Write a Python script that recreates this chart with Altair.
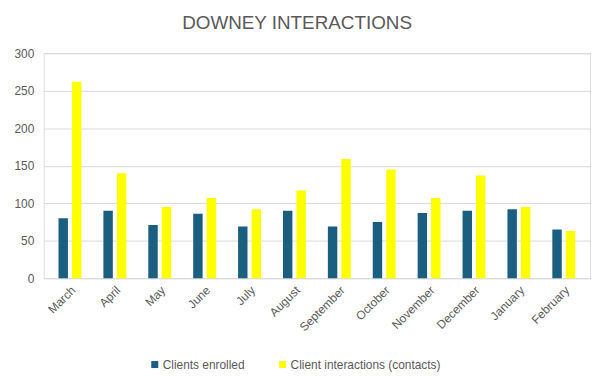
import altair as alt
import pandas as pd

months = ["March", "April", "May", "June", "July", "August", "September",
          "October", "November", "December", "January", "February"]
enrolled = [80, 90, 71, 86, 69, 90, 69, 75, 87, 90, 92, 65]
interactions = [262, 140, 95, 107, 92, 117, 159, 145, 107, 137, 95, 63]
series = ["Clients enrolled", "Client interactions (contacts)"]
colors = ["#1A5E80", "#FFFF00"]

rows = []
for m, e, i in zip(months, enrolled, interactions):
    rows.append({"month": m, "series": series[0], "value": e})
    rows.append({"month": m, "series": series[1], "value": i})
df = pd.DataFrame(rows)

chart = alt.Chart(df).mark_bar().encode(
    x=alt.X("month:N", sort=months, title=None,
            scale=alt.Scale(paddingInner=0.49, paddingOuter=0.33),
            axis=alt.Axis(labelAngle=-45, labelFontSize=12, labelColor="#595959",
                          labelFont="Liberation Sans", ticks=False, domain=False,
                          grid=False, labelPadding=6)),
    xOffset=alt.XOffset("series:N", sort=series,
                        scale=alt.Scale(paddingInner=0.3)),
    y=alt.Y("value:Q", title=None,
            scale=alt.Scale(domain=[0, 300]),
            axis=alt.Axis(values=[0, 50, 100, 150, 200, 250, 300], labelFontSize=12,
                          labelColor="#595959", labelFont="Liberation Sans",
                          ticks=False, domain=False, gridColor="#D9D9D9",
                          labelPadding=10)),
    color=alt.Color("series:N", sort=series,
                    scale=alt.Scale(domain=series, range=colors),
                    legend=alt.Legend(orient="none", legendX=106, legendY=308,
                                      title=None, direction="horizontal",
                                      symbolType="square", symbolSize=50,
                                      symbolStrokeWidth=0, padding=0, labelOffset=2,
                                      labelFontSize=12, labelColor="#595959",
                                      labelFont="Liberation Sans", columnPadding=32)),
).properties(
    width=551, height=227,
    title=alt.TitleParams("DOWNEY INTERACTIONS", fontSize=19, color="#595959",
                          font="Liberation Sans", fontWeight="normal", offset=14,
                          anchor="middle", dx=-20),
).configure_view(stroke=None).configure(background="white")

chart.save("out.html", embed_options={"renderer": "svg", "actions": False})
